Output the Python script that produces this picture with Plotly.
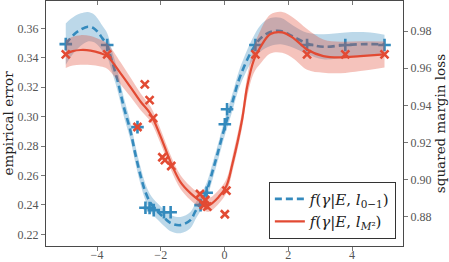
import plotly.graph_objects as go

# ---------------- data ----------------
blue_x = [-4.98, -4.83, -4.67, -4.51, -4.29, -4.11, -3.98, -3.83, -3.68, -3.57,
          -3.36, -3.16, -2.95, -2.79, -2.63, -2.48, -2.32, -2.11, -1.85, -1.69,
          -1.38, -1.07, -0.91, -0.70, -0.54, -0.39, -0.23, 0.00, 0.24, 0.45,
          0.66, 0.87, 1.13, 1.44, 1.76, 2.16, 2.59, 3.10, 3.79, 4.47, 5.02]
blue_mean = [0.3493, 0.3534, 0.3568, 0.3592, 0.3611, 0.3602, 0.3577, 0.3532, 0.3487, 0.3407,
             0.3249, 0.3067, 0.2902, 0.2739, 0.2596, 0.2487, 0.2413, 0.2358, 0.2304, 0.2277,
             0.2263, 0.2297, 0.2358, 0.2433, 0.2508, 0.2617, 0.2739, 0.2922, 0.3092, 0.3249,
             0.3362, 0.3453, 0.3532, 0.3575, 0.3582, 0.3543, 0.3498, 0.3475, 0.3487, 0.3493, 0.3491]
blue_hw = [0.014, 0.013, 0.012, 0.011, 0.010, 0.0095, 0.009, 0.0085, 0.008, 0.0075,
           0.007, 0.0065, 0.006, 0.006, 0.0058, 0.0056, 0.0055, 0.0055, 0.0055, 0.0055,
           0.0055, 0.0055, 0.0055, 0.0055, 0.0055, 0.0055, 0.0055, 0.0056, 0.0058, 0.006,
           0.0065, 0.0075, 0.009, 0.0095, 0.009, 0.0075, 0.0072, 0.0085, 0.0085, 0.008, 0.0065]

red_x = [-4.98, -4.76, -4.51, -4.20, -3.89, -3.68, -3.26, -2.95, -2.63, -2.32,
         -2.01, -1.69, -1.38, -1.07, -0.65, -0.49, -0.18, 0.06, 0.24, 0.55,
         0.71, 0.92, 1.13, 1.44, 1.81, 2.17, 2.59, 3.10, 3.64, 4.26, 5.02]
red_mean = [0.9676, 0.9692, 0.9698, 0.9695, 0.9681, 0.9665, 0.9572, 0.9498, 0.9419, 0.9353,
            0.9234, 0.9094, 0.8986, 0.8927, 0.8872, 0.8863, 0.8907, 0.8965, 0.9078, 0.9321,
            0.9500, 0.9644, 0.9715, 0.9784, 0.9793, 0.9761, 0.9701, 0.9665, 0.9658, 0.9665, 0.9674]
red_hw = [0.0075, 0.0078, 0.008, 0.0078, 0.0072, 0.0068, 0.006, 0.0052, 0.0045, 0.004,
          0.0038, 0.0037, 0.0037, 0.0037, 0.0037, 0.0037, 0.0037, 0.0038, 0.004, 0.0045,
          0.0055, 0.007, 0.009, 0.0105, 0.011, 0.011, 0.011, 0.009, 0.0085, 0.008, 0.007]

blue_pts_x = [-4.98, -3.68, -2.73, -2.48, -2.35, -2.22, -1.90, -1.69, -0.75, -0.56,
              0.01, 0.08, 0.97, 2.59, 3.79, 5.02]
blue_pts_y = [0.3493, 0.3487, 0.2929, 0.2381, 0.2379, 0.2365, 0.2350, 0.2350, 0.2399, 0.2483,
              0.2948, 0.3050, 0.3487, 0.3487, 0.3487, 0.3487]

red_pts_x = [-4.98, -3.68, -2.73, -2.50, -2.35, -2.24, -1.95, -1.87, -1.67, -0.77,
             -0.65, -0.60, -0.54, 0.01, 0.06, 0.97, 2.59, 3.79, 5.02]
red_pts_y = [0.9674, 0.9674, 0.9283, 0.9513, 0.9428, 0.9331, 0.9120, 0.9105, 0.9073, 0.8922,
             0.8863, 0.8890, 0.8854, 0.8813, 0.8940, 0.9674, 0.9674, 0.9674, 0.9674]

x_ticks = [-4, -2, 0, 2, 4]
left_ticks = [0.22, 0.24, 0.26, 0.28, 0.30, 0.32, 0.34, 0.36]
right_ticks = [0.88, 0.90, 0.92, 0.94, 0.96, 0.98]

blue_name = "<i>f</i>(<i>γ</i>|<i>E</i>, <i>l</i><sub>0−1</sub>)"
red_name = "<i>f</i>(<i>γ</i>|<i>E</i>, <i>l</i><sub><i>M</i>²</sub>)"

# ---------------- styles ----------------
BLUE = "#348ABD"
RED = "#E24A33"
FONT = "Liberation Serif"
WIDEFONT = "DejaVu Serif"
SPINE = "#4a4a4a"
TICKC = "#777777"

fig = go.Figure()

# blue band + line + markers (left axis)
fig.add_trace(go.Scatter(x=blue_x, y=[m - h for m, h in zip(blue_mean, blue_hw)],
                         mode="lines", line=dict(width=0, shape="spline"),
                         hoverinfo="skip", showlegend=False, yaxis="y"))
fig.add_trace(go.Scatter(x=blue_x, y=[m + h for m, h in zip(blue_mean, blue_hw)],
                         mode="lines", line=dict(width=0, shape="spline"),
                         fill="tonexty", fillcolor="rgba(52,138,189,0.33)",
                         hoverinfo="skip", showlegend=False, yaxis="y"))
fig.add_trace(go.Scatter(x=blue_x, y=blue_mean, mode="lines", name=blue_name,
                         line=dict(color=BLUE, width=2.6, dash="7px,4px", shape="spline"),
                         yaxis="y"))
fig.add_trace(go.Scatter(x=blue_pts_x, y=blue_pts_y, mode="markers", showlegend=False,
                         marker=dict(symbol="cross-thin", size=9,
                                     line=dict(width=2.6, color=BLUE)),
                         yaxis="y"))

# red band + line + markers (right axis)
fig.add_trace(go.Scatter(x=red_x, y=[m - h for m, h in zip(red_mean, red_hw)],
                         mode="lines", line=dict(width=0, shape="spline"),
                         hoverinfo="skip", showlegend=False, yaxis="y2"))
fig.add_trace(go.Scatter(x=red_x, y=[m + h for m, h in zip(red_mean, red_hw)],
                         mode="lines", line=dict(width=0, shape="spline"),
                         fill="tonexty", fillcolor="rgba(226,74,51,0.33)",
                         hoverinfo="skip", showlegend=False, yaxis="y2"))
fig.add_trace(go.Scatter(x=red_x, y=red_mean, mode="lines", name=red_name,
                         line=dict(color=RED, width=2.2, shape="spline"),
                         yaxis="y2"))
fig.add_trace(go.Scatter(x=red_pts_x, y=red_pts_y, mode="markers", showlegend=False,
                         marker=dict(symbol="x-thin", size=8,
                                     line=dict(width=2.6, color=RED)),
                         yaxis="y2"))

# invisible traces to activate the helper axes (top ticks, tick labels)
fig.add_trace(go.Scatter(x=[0], y=[0.3], mode="markers", marker=dict(opacity=0),
                         hoverinfo="skip", showlegend=False, xaxis="x2", yaxis="y"))
fig.add_trace(go.Scatter(x=[0], y=[0.3], mode="markers", marker=dict(opacity=0),
                         hoverinfo="skip", showlegend=False, xaxis="x3", yaxis="y"))

tickfont = dict(family=FONT, size=12, color="#555555")
titlefont = dict(family=WIDEFONT, size=13.5, color="#222222")

fig.update_layout(
    width=449, height=262,
    margin=dict(l=46, r=46, t=1, b=16),
    paper_bgcolor="white", plot_bgcolor="white",
    showlegend=True,
    legend=dict(x=0.98, y=0.03, xanchor="right", yanchor="bottom",
                traceorder="normal",
                bgcolor="white", bordercolor="#333333", borderwidth=1,
                font=dict(family=WIDEFONT, size=15, color="#222222"),
                itemwidth=30, tracegroupgap=0),
    # main x axis: frame + outward bottom ticks
    xaxis=dict(range=[-5.6, 5.6], tickvals=x_ticks, ticks="outside", ticklen=4,
               tickcolor=TICKC, showticklabels=False, automargin=False,
               showline=True, linecolor=SPINE, linewidth=1.3,
               mirror=True, showgrid=False, zeroline=False),
    # top ticks pointing inward
    xaxis2=dict(range=[-5.6, 5.6], overlaying="x", side="top", tickvals=x_ticks,
                ticks="inside", ticklen=4, tickcolor=TICKC, showticklabels=False,
                automargin=False,
                showline=False, showgrid=False, zeroline=False),
    # labels-only bottom axis (no tick marks so the labels sit closer to the frame)
    xaxis3=dict(range=[-5.6, 5.6], overlaying="x", anchor="free", position=0,
                side="bottom", tickvals=x_ticks, ticks="", showticklabels=True,
                tickfont=tickfont, automargin=False,
                showline=False, showgrid=False, zeroline=False),
    yaxis=dict(range=[0.2121, 0.3786], tickvals=left_ticks, tickformat=".2f",
               ticks="outside", ticklen=4, tickcolor=TICKC, showline=True,
               linecolor=SPINE, linewidth=1.3, showgrid=False, zeroline=False,
               tickfont=tickfont, automargin=False,
               title=dict(text="empirical error", font=titlefont, standoff=4)),
    yaxis2=dict(range=[0.8642, 0.9962], overlaying="y", side="right",
                tickvals=right_ticks, tickformat=".2f", ticks="outside", ticklen=4,
                tickcolor=TICKC, showline=True, linecolor=SPINE, linewidth=1.3,
                showgrid=False, zeroline=False, tickfont=tickfont, automargin=False,
                title=dict(text="squared margin loss", font=titlefont, standoff=4)),
)

fig.write_html("out.html",
               config={"displayModeBar": False},
               post_script="document.body.style.margin='0px';document.body.style.padding='0px';")
